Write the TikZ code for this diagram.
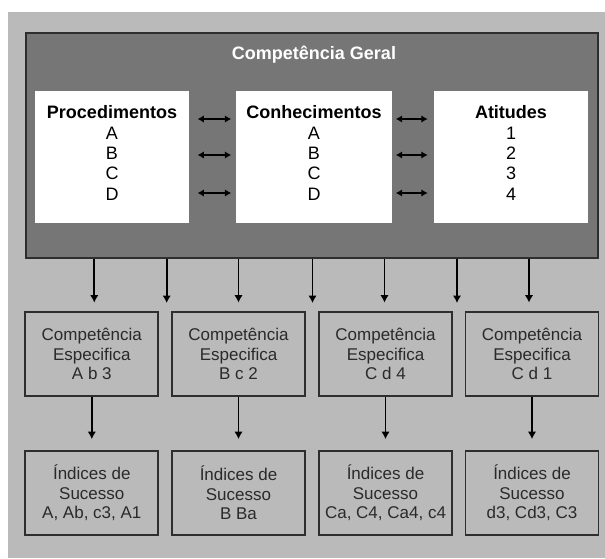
\documentclass[tikz,border=0pt]{standalone}
\usepackage{fontspec}
\setmainfont{Liberation Sans}
\usetikzlibrary{arrows.meta}
\definecolor{bggray}{HTML}{BABABA}
\definecolor{darkgray2}{HTML}{767676}
\definecolor{edgegray}{HTML}{2E2E2E}
\definecolor{txtgray}{HTML}{2A2A2A}
\tikzset{
  darkbox/.style={draw=edgegray, line width=2pt, fill=darkgray2, minimum width=572pt, minimum height=225pt, inner sep=0pt},
  whitebox/.style={fill=white, draw=none, minimum width=154pt, minimum height=132pt, inner sep=0pt},
  headtext/.style={align=center, font=\fontsize{18}{20.3}\selectfont, text=black},
  lowbox/.style={draw=edgegray, line width=1.8pt, fill=bggray, minimum width=133pt, minimum height=84pt, inner sep=0pt, align=center, font=\fontsize{17}{19.5}\selectfont, text=txtgray},
  dbl/.style={{Latex[length=6.5pt,width=7.5pt]}-{Latex[length=6.5pt,width=7.5pt]}, line width=1.8pt, black},
  arr/.style={-{Latex[length=7.5pt,width=8.5pt]}, line width=1.8pt, black},
}
\begin{document}
\begin{tikzpicture}[x=1pt,y=-1pt]
\useasboundingbox (0,0) rectangle (605,558);
\fill[bggray] (8,12) rectangle (605,558);
% general competence box
\node[darkbox] (geral) at (312,145.5) {};
\node[font=\fontsize{18}{20}\selectfont\bfseries, text=white] (title) at (314,55) {Competência Geral};
% white boxes
\node[whitebox, minimum width=153.5pt] (proc) at (112,157) {};
\node[whitebox, minimum width=156pt] (conh) at (314,157) {};
\node[whitebox, minimum width=154pt] (atit) at (511,157) {};
\node[headtext] (proct) at (112,153) {\textbf{Procedimentos}\\A\\B\\C\\D};
\node[headtext] (conht) at (314,153) {\textbf{Conhecimentos}\\A\\B\\C\\D};
\node[headtext] (atitt) at (511,153) {\textbf{Atitudes}\\1\\2\\3\\4};
% double arrows
\foreach \s in {38,2,-36}{
  \draw[dbl, shorten <=8.5pt, shorten >=4.5pt] ([yshift=\s pt]proc.east) -- ([yshift=\s pt]conh.west);
  \draw[dbl, shorten <=3.5pt, shorten >=6pt] ([yshift=\s pt]conh.east) -- ([yshift=\s pt]atit.west);
}
% specific competence boxes
\node[lowbox] (ce1) at (91.8,354) {Competência\\Especifica\\A b 3};
\node[lowbox] (ce2) at (238.5,354) {Competência\\Especifica\\B c 2};
\node[lowbox] (ce3) at (385.5,354) {Competência\\Especifica\\C d 4};
\node[lowbox] (ce4) at (532,354) {Competência\\Especifica\\C d 1};
% success index boxes
\node[lowbox] (is1) at (91.8,493) {Índices de\\Sucesso\\A, Ab, c3, A1};
\node[lowbox] (is2) at (238.5,493) {Índices de\\Sucesso\\B Ba};
\node[lowbox] (is3) at (385.5,493) {Índices de\\Sucesso\\Ca, C4, Ca4, c4};
\node[lowbox] (is4) at (532,493) {Índices de\\Sucesso\\d3, Cd3, C3};
% arrows from general box
\coordinate (g1) at (166.7,303);
\coordinate (g2) at (312.5,303);
\coordinate (g3) at (457,303);
\draw[arr, shorten >=8.5pt] ([xshift=2.5pt]geral.south -| ce1.north) -- ([xshift=2.5pt]ce1.north);
\draw[arr, shorten >=8.5pt] (geral.south -| ce2.north) -- (ce2.north);
\draw[arr, shorten >=8.5pt] ([xshift=-1pt]geral.south -| ce3.north) -- ([xshift=-1pt]ce3.north);
\draw[arr, shorten >=8.5pt] ([xshift=-3pt]geral.south -| ce4.north) -- ([xshift=-3pt]ce4.north);
\foreach \g in {g1,g2,g3}{
  \draw[arr] (geral.south -| \g) -- (\g);
}
% arrows to index boxes
\foreach \i in {1,2,3,4}{
  \draw[arr, shorten >=11pt] (ce\i.south) -- (is\i.north);
}
\end{tikzpicture}
\end{document}
